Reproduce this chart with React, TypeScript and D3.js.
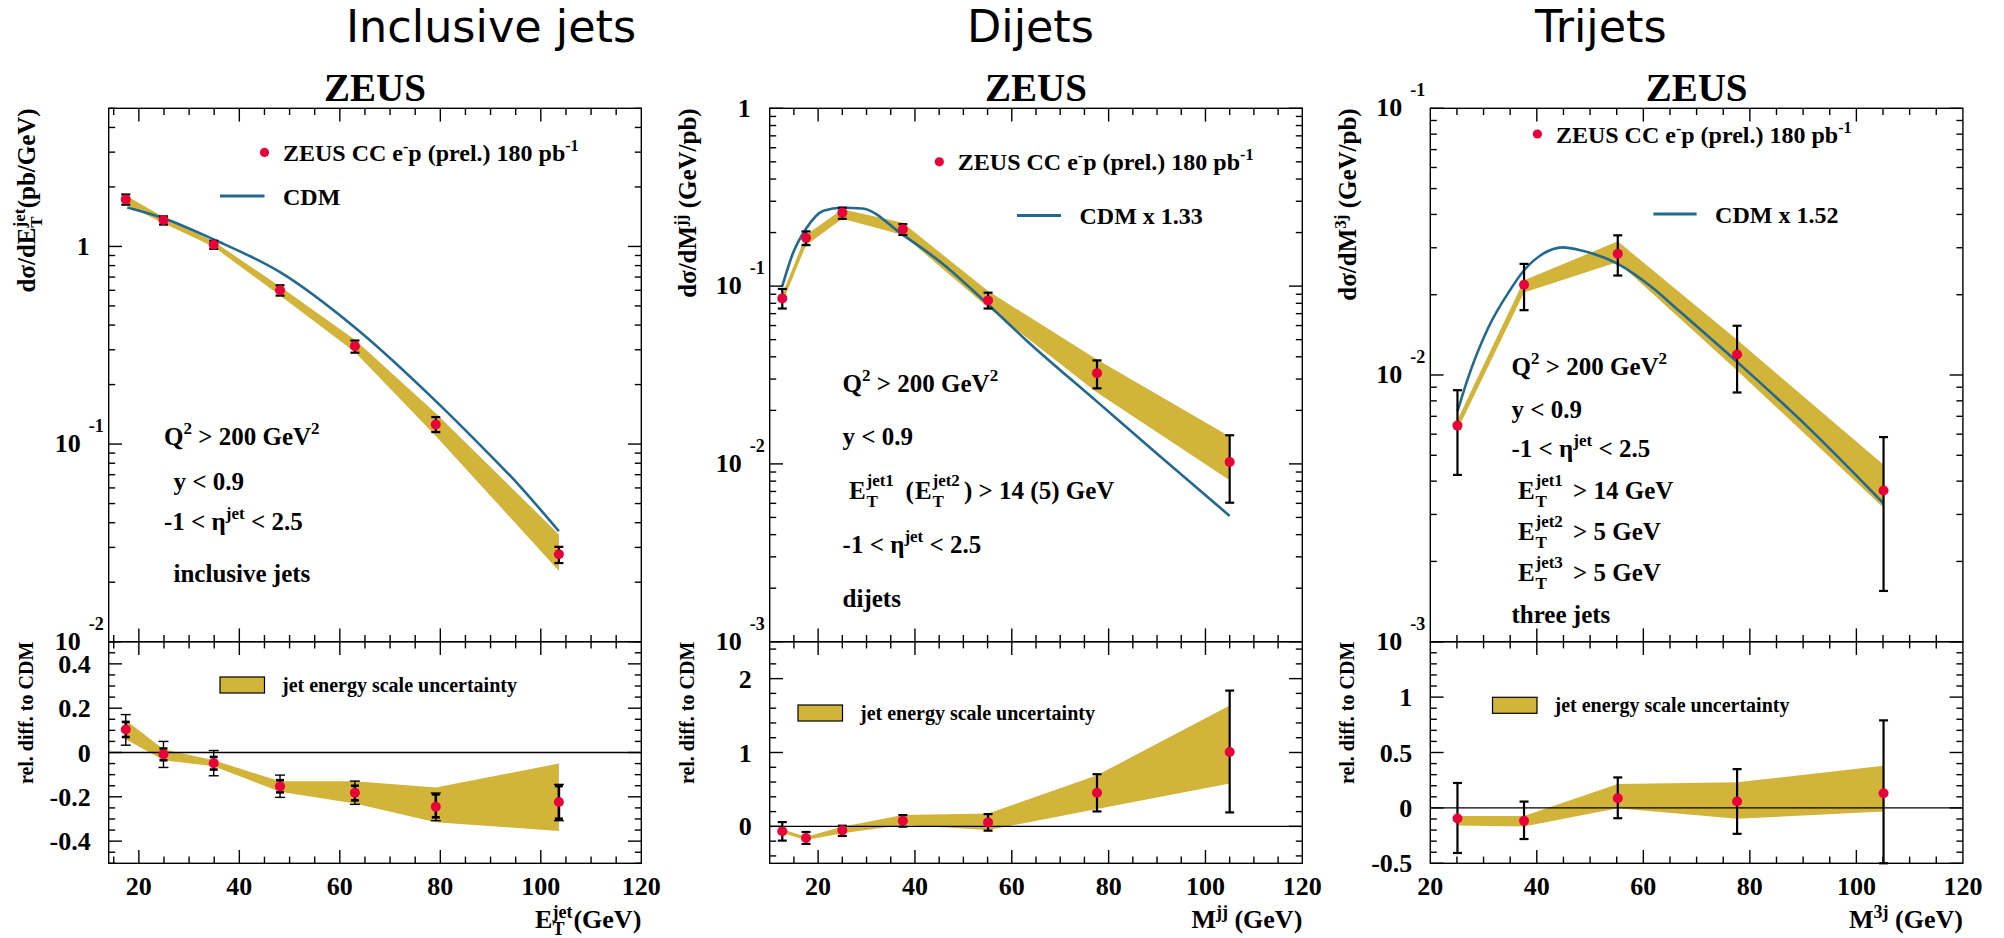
import React from "react";
import * as d3 from "d3";

const W = 2004;
const H = 938;

// ---------------- Inclusive jets ----------------
const incEt = [17.4, 24.9, 34.9, 48.1, 63.0, 79.1, 103.6];
const incXsec = [1.73, 1.36, 1.02, 0.6, 0.313, 0.1257, 0.0277];
const incXsecLo = [1.626, 1.29, 0.972, 0.564, 0.29, 0.115, 0.025];
const incXsecHi = [1.832, 1.42, 1.068, 0.636, 0.334, 0.137, 0.0302];
const incBandLo = [1.63, 1.31, 0.995, 0.564, 0.292, 0.11, 0.0228];
const incBandHi = [1.81, 1.41, 1.06, 0.627, 0.337, 0.143, 0.0349];
const incCdmEt = [17.7, 24.9, 34.9, 48.1, 63.0, 79.1, 87.4, 96.0, 103.6];
const incCdm = [1.573, 1.389, 1.084, 0.741, 0.389, 0.165, 0.102, 0.0606, 0.0362];
const incRel = [0.1035, -0.0075, -0.048, -0.153, -0.1815, -0.2445, -0.2235];
const incRelStatLo = [0.07, -0.035, -0.077, -0.18, -0.216, -0.2925, -0.2985];
const incRelStatHi = [0.138, 0.018, -0.02, -0.125, -0.15, -0.189, -0.1515];
const incRelTotLo = [0.033, -0.0675, -0.105, -0.2025, -0.234, -0.3075, -0.3075];
const incRelTotHi = [0.171, 0.05, 0.009, -0.102, -0.129, -0.183, -0.144];
const incRelBandLo = [0.06, -0.035, -0.062, -0.177, -0.23, -0.315, -0.354];
const incRelBandHi = [0.145, 0.015, -0.035, -0.13, -0.13, -0.158, -0.05];

// ---------------- Dijets ----------------
const dijM = [12.6, 17.5, 25.0, 37.5, 55.1, 77.6, 105.0];
const dijXsec = [0.0853, 0.187, 0.259, 0.209, 0.0831, 0.0324, 0.01026];
const dijXsecLo = [0.0748, 0.17, 0.239, 0.194, 0.0748, 0.0266, 0.00605];
const dijXsecHi = [0.0964, 0.203, 0.276, 0.223, 0.0918, 0.0382, 0.01449];
const dijBandLo = [0.08, 0.17, 0.239, 0.194, 0.0759, 0.0252, 0.0081];
const dijBandHi = [0.09, 0.194, 0.2705, 0.227, 0.0938, 0.0386, 0.01426];
const dijCdmM = [12.6, 14.8, 17.5, 21.1, 25.0, 29.1, 37.5, 45.2, 55.1, 63.2, 77.6, 90.0, 105.0];
const dijCdm = [0.1, 0.153, 0.21, 0.265, 0.276, 0.273, 0.194, 0.137, 0.0788, 0.049, 0.0224, 0.0114, 0.0051];
const dijRel = [-0.067, -0.157, -0.054, 0.076, 0.054, 0.454, 1.007];
const dijRelLo = [-0.193, -0.238, -0.13, -0.004, -0.058, 0.202, 0.189];
const dijRelHi = [0.058, -0.076, 0.009, 0.153, 0.166, 0.706, 1.838];
const dijRelBandLo = [-0.09, -0.184, -0.094, 0.018, -0.049, 0.234, 0.58];
const dijRelBandHi = [-0.04, -0.14, -0.004, 0.153, 0.175, 0.692, 1.636];

// ---------------- Trijets ----------------
const triM = [25.1, 37.6, 55.2, 77.6, 105.1];
const triXsec = [0.00646, 0.0218, 0.0285, 0.01194, 0.00369];
const triXsecLo = [0.00422, 0.0175, 0.0236, 0.0086, 0.00155];
const triXsecHi = [0.00877, 0.0261, 0.0334, 0.0153, 0.00585];
const triBandLo = [0.00622, 0.02037, 0.02655, 0.0104, 0.00318];
const triBandHi = [0.00679, 0.02264, 0.0317, 0.01355, 0.00461];
const triCdmM = [25.1, 26.9, 30.9, 34.9, 37.6, 41.2, 44.8, 48.4, 55.2, 61.9, 66.7, 77.6, 90.6, 105.1];
const triCdm = [0.0073, 0.00951, 0.01507, 0.0207, 0.0247, 0.0285, 0.0301, 0.0293, 0.0261, 0.0211, 0.0174, 0.0112, 0.00646, 0.0033];
const triRel = [-0.096, -0.117, 0.087, 0.057, 0.132];
const triRelLo = [-0.407, -0.281, -0.093, -0.234, -0.5];
const triRelHi = [0.225, 0.057, 0.275, 0.35, 0.79];
const triRelBandLo = [-0.159, -0.168, -0.003, -0.099, -0.033];
const triRelBandHi = [-0.072, -0.072, 0.216, 0.231, 0.38];

// ---------------- Tick labels ----------------
const xTickLabels = [20, 40, 60, 80, 100, 120];
const incLogLabels = [1, 0.1, 0.01];
const dijLogLabels = [1, 0.1, 0.01, 0.001];
const triLogLabels = [0.1, 0.01, 0.001];
const incRelLabels = [-0.4, -0.2, 0, 0.2, 0.4];
const dijRelLabels = [0, 1, 2];
const triRelLabels = [-0.5, 0, 0.5, 1];

const panelTitles = ["Inclusive jets", "Dijets", "Trijets"];

// ---------------- Layout ----------------
const TOP = 108.3;
const SPLIT = 641.7;
const BOTTOM = 863.3;
const PW = 532.6;
const SERIF = "'Liberation Serif', 'Times New Roman', Times, serif";
const SANS = "'DejaVu Sans', Verdana, sans-serif";
const RED = "#e8003a";
const GOLD = "#d2b43b";
const BLUE = "#22698f";

const zip = (xs: number[], ys: number[]) => xs.map((x, i) => [x, ys[i]] as [number, number]);

type PanelProps = {
  left: number;
  xDomain: [number, number];
  yDomain: [number, number];
  relDomain: [number, number];
  relMajor: number;
  relMinor: number;
  logLabels: number[];
  relLabels: number[];
  x: number[];
  y: number[];
  yLo: number[];
  yHi: number[];
  bandLo: number[];
  bandHi: number[];
  cdmX: number[];
  cdmY: number[];
  rel: number[];
  relLo: number[];
  relHi: number[];
  relStatLo?: number[];
  relStatHi?: number[];
  relBandLo: number[];
  relBandHi: number[];
  legDot: [number, number];
  legLine: [number, number, number];
  cdmLabel: string;
  relLeg: [number, number];
};

function Panel(p: PanelProps) {
  const L = p.left;
  const R = p.left + PW;
  const xs = d3.scaleLinear().domain(p.xDomain).range([L, R]);
  const ys = d3.scaleLog().domain(p.yDomain).range([SPLIT, TOP]);
  const rs = d3.scaleLinear().domain(p.relDomain).range([BOTTOM, SPLIT]).clamp(true);

  const xt = d3.range(Math.ceil(p.xDomain[0] / 5) * 5, p.xDomain[1] + 0.01, 5);
  const xTickEls: JSX.Element[] = [];
  xt.forEach((v, i) => {
    const major = v % 20 === 0;
    const len = major ? 13.3 : 6.7;
    const X = xs(v);
    if (X <= L + 0.5 || X >= R - 0.5) return;
    xTickEls.push(<line key={"xt1" + i} x1={X} x2={X} y1={TOP} y2={TOP + len} />);
    xTickEls.push(<line key={"xt2" + i} x1={X} x2={X} y1={SPLIT} y2={SPLIT - len} />);
    xTickEls.push(<line key={"xt3" + i} x1={X} x2={X} y1={SPLIT} y2={SPLIT + len} />);
    xTickEls.push(<line key={"xt4" + i} x1={X} x2={X} y1={BOTTOM} y2={BOTTOM - len} />);
  });

  const logTicks: { v: number; major: boolean }[] = [];
  const k0 = Math.floor(Math.log10(p.yDomain[0]));
  const k1 = Math.ceil(Math.log10(p.yDomain[1]));
  for (let k = k0; k <= k1; k++) {
    for (let m = 1; m <= 9; m++) {
      const v = m * Math.pow(10, k);
      if (v >= p.yDomain[0] * 0.999 && v <= p.yDomain[1] * 1.001) logTicks.push({ v, major: m === 1 });
    }
  }
  const yTickEls = logTicks.map((t, i) => {
    const Y = ys(t.v);
    const len = t.major ? 13.3 : 6.5;
    return (
      <g key={"yt" + i}>
        <line x1={L} x2={L + len} y1={Y} y2={Y} />
        <line x1={R} x2={R - len} y1={Y} y2={Y} />
      </g>
    );
  });

  const rt = d3.range(Math.ceil(p.relDomain[0] / p.relMinor - 1e-6) * p.relMinor, p.relDomain[1] + 1e-6, p.relMinor);
  const rTickEls = rt.map((v, i) => {
    const q = v / p.relMajor;
    const major = Math.abs(q - Math.round(q)) < 1e-6;
    const Y = rs(v);
    const len = major ? 13.3 : 6.5;
    return (
      <g key={"rt" + i}>
        <line x1={L} x2={L + len} y1={Y} y2={Y} />
        <line x1={R} x2={R - len} y1={Y} y2={Y} />
      </g>
    );
  });

  const band = d3
    .area<number>()
    .x((_, i) => xs(p.x[i]))
    .y0((_, i) => ys(p.bandLo[i]))
    .y1((_, i) => ys(p.bandHi[i]));
  const relBand = d3
    .area<number>()
    .x((_, i) => xs(p.x[i]))
    .y0((_, i) => rs(p.relBandLo[i]))
    .y1((_, i) => rs(p.relBandHi[i]));
  const cdmLine = d3
    .line<[number, number]>()
    .x((d) => xs(d[0]))
    .y((d) => ys(d[1]))
    .curve(d3.curveMonotoneX);

  const errBar = (key: string, X: number, y1: number, y2: number, cap: number, sw: number) => (
    <g key={key} stroke="#000" strokeWidth={sw}>
      <line x1={X} x2={X} y1={y1} y2={y2} />
      <line x1={X - cap} x2={X + cap} y1={y1} y2={y1} />
      <line x1={X - cap} x2={X + cap} y1={y2} y2={y2} />
    </g>
  );

  return (
    <g>
      <path d={band(p.x) || ""} fill={GOLD} />
      <path d={cdmLine(zip(p.cdmX, p.cdmY)) || ""} fill="none" stroke={BLUE} strokeWidth={2.6} />
      {p.x.map((v, i) => errBar("ue" + i, xs(v), ys(p.yLo[i]), ys(p.yHi[i]), 4.5, 2.2))}
      {p.x.map((v, i) => (
        <circle key={"um" + i} cx={xs(v)} cy={ys(p.y[i])} r={5} fill={RED} />
      ))}

      <path d={relBand(p.x) || ""} fill={GOLD} />
      <line x1={L} x2={R} y1={rs(0)} y2={rs(0)} stroke="#000" strokeWidth={1.3} />
      {p.relStatLo && p.relStatHi
        ? p.x.map((v, i) => (
            <g key={"le" + i}>
              {errBar("lo" + i, xs(v), rs(p.relLo[i]), rs(p.relHi[i]), 5, 1.4)}
              {errBar("li" + i, xs(v), rs(p.relStatLo![i]), rs(p.relStatHi![i]), 4, 2.6)}
            </g>
          ))
        : p.x.map((v, i) => errBar("le" + i, xs(v), rs(p.relLo[i]), rs(p.relHi[i]), 4.5, 2.2))}
      {p.x.map((v, i) => (
        <circle key={"lm" + i} cx={xs(v)} cy={rs(p.rel[i])} r={5} fill={RED} />
      ))}

      <g stroke="#000" strokeWidth={1.4} fill="none">
        <rect x={L} y={TOP} width={PW} height={SPLIT - TOP} />
        <rect x={L} y={SPLIT} width={PW} height={BOTTOM - SPLIT} />
        {xTickEls}
        {yTickEls}
        {rTickEls}
      </g>

      <g fontFamily={SERIF} fontWeight="bold" fontSize={26} fill="#000">
        {xTickLabels
          .filter((v) => v >= p.xDomain[0] && v <= p.xDomain[1])
          .map((v) => (
            <text key={"xl" + v} x={xs(v)} y={895} textAnchor="middle">
              {v}
            </text>
          ))}
        {p.logLabels.map((v) => {
          const Y = ys(v);
          if (Math.abs(v - 1) < 1e-9)
            return (
              <text key={"ll" + v} x={L - 19} y={Y + 9} textAnchor="end">
                1
              </text>
            );
          const k = Math.round(Math.log10(v));
          return (
            <g key={"ll" + v}>
              <text x={L - 28} y={Y + 8} textAnchor="end">
                10
              </text>
              <text x={L - 20} y={Y - 12} fontSize={18}>
                {String(k)}
              </text>
            </g>
          );
        })}
        {p.relLabels.map((v) => (
          <text key={"rl" + v} x={L - 18} y={rs(v) + 9} textAnchor="end">
            {String(v)}
          </text>
        ))}
      </g>

      <g fontFamily={SERIF} fontWeight="bold" fill="#000">
        <circle cx={L + p.legDot[0]} cy={TOP + p.legDot[1]} r={4.6} fill={RED} />
        <text x={L + p.legDot[0] + 18.5} y={TOP + p.legDot[1] + 8.5} fontSize={24}>
          ZEUS CC e
          <tspan dy={-9} fontSize={16}>
            -
          </tspan>
          <tspan dy={9} fontSize={24}>
            p (prel.) 180 pb
          </tspan>
          <tspan dy={-10} fontSize={16}>
            -1
          </tspan>
        </text>
        <line
          x1={L + p.legLine[0]}
          x2={L + p.legLine[1]}
          y1={TOP + p.legLine[2]}
          y2={TOP + p.legLine[2]}
          stroke={BLUE}
          strokeWidth={3}
        />
        <text x={L + p.legLine[1] + 18.5} y={TOP + p.legLine[2] + 8.5} fontSize={24}>
          {p.cdmLabel}
        </text>
        <rect x={L + p.relLeg[0]} y={p.relLeg[1]} width={44.5} height={16} fill={GOLD} stroke="#000" strokeWidth={1.2} />
        <text x={L + p.relLeg[0] + 62} y={p.relLeg[1] + 15} fontSize={20}>
          jet energy scale uncertainty
        </text>
        <text transform={`translate(${L - 76},${SPLIT}) rotate(-90)`} textAnchor="end" fontSize={20}>
          rel. diff. to CDM
        </text>
      </g>
    </g>
  );
}

const Q2 = ({ x, y }: { x: number; y: number }) => (
  <text x={x} y={y}>
    Q
    <tspan dy={-11} fontSize={17}>
      2
    </tspan>
    <tspan dy={11} fontSize={25}>
      {" > 200 GeV"}
    </tspan>
    <tspan dy={-11} fontSize={17}>
      2
    </tspan>
  </text>
);

const Eta = ({ x, y }: { x: number; y: number }) => (
  <text x={x} y={y}>
    {"-1 < η"}
    <tspan dy={-11} fontSize={17}>
      jet
    </tspan>
    <tspan dy={11} fontSize={25}>
      {" < 2.5"}
    </tspan>
  </text>
);

const ET = ({ x, y, sup }: { x: number; y: number; sup: string }) => (
  <g>
    <text x={x} y={y}>
      E
    </text>
    <text x={x + 17.5} y={y - 13} fontSize={17}>
      {sup}
    </text>
    <text x={x + 17.5} y={y + 8} fontSize={17}>
      T
    </text>
  </g>
);

export default function App() {
  const lefts = [108.7, 769.7, 1430.3];
  return (
    <div style={{ position: "absolute", left: 0, top: 0, width: W, height: H, background: "#fff" }}>
      <svg width={W} height={H} style={{ display: "block" }}>
        <rect x={0} y={0} width={W} height={H} fill="#fff" />

        <g fontFamily={SANS} fontSize={44.5} fill="#000">
          <text x={346} y={42}>
            {panelTitles[0]}
          </text>
          <text x={967} y={42}>
            {panelTitles[1]}
          </text>
          <text x={1535} y={42}>
            {panelTitles[2]}
          </text>
        </g>
        <g fontFamily={SERIF} fontWeight="bold" fontSize={39} textAnchor="middle" fill="#000">
          {lefts.map((l, i) => (
            <text key={"z" + i} x={l + PW / 2} y={101}>
              ZEUS
            </text>
          ))}
        </g>

        <Panel
          left={lefts[0]}
          xDomain={[14, 120]}
          yDomain={[0.01, 5]}
          relDomain={[-0.5, 0.5]}
          relMajor={0.2}
          relMinor={0.05}
          logLabels={incLogLabels}
          relLabels={incRelLabels}
          x={incEt}
          y={incXsec}
          yLo={incXsecLo}
          yHi={incXsecHi}
          bandLo={incBandLo}
          bandHi={incBandHi}
          cdmX={incCdmEt}
          cdmY={incCdm}
          rel={incRel}
          relLo={incRelTotLo}
          relHi={incRelTotHi}
          relStatLo={incRelStatLo}
          relStatHi={incRelStatHi}
          relBandLo={incRelBandLo}
          relBandHi={incRelBandHi}
          legDot={[155.8, 44.1]}
          legLine={[111.3, 155.8, 87.7]}
          cdmLabel="CDM"
          relLeg={[111.3, 677]}
        />
        <Panel
          left={lefts[1]}
          xDomain={[10, 120]}
          yDomain={[0.001, 1]}
          relDomain={[-0.5, 2.5]}
          relMajor={1}
          relMinor={0.2}
          logLabels={dijLogLabels}
          relLabels={dijRelLabels}
          x={dijM}
          y={dijXsec}
          yLo={dijXsecLo}
          yHi={dijXsecHi}
          bandLo={dijBandLo}
          bandHi={dijBandHi}
          cdmX={dijCdmM}
          cdmY={dijCdm}
          rel={dijRel}
          relLo={dijRelLo}
          relHi={dijRelHi}
          relBandLo={dijRelBandLo}
          relBandHi={dijRelBandHi}
          legDot={[169.6, 53.5]}
          legLine={[247.3, 291.3, 107.1]}
          cdmLabel="CDM x 1.33"
          relLeg={[28.3, 705]}
        />
        <Panel
          left={lefts[2]}
          xDomain={[20, 120]}
          yDomain={[0.001, 0.1]}
          relDomain={[-0.5, 1.5]}
          relMajor={0.5}
          relMinor={0.1}
          logLabels={triLogLabels}
          relLabels={triRelLabels}
          x={triM}
          y={triXsec}
          yLo={triXsecLo}
          yHi={triXsecHi}
          bandLo={triBandLo}
          bandHi={triBandHi}
          cdmX={triCdmM}
          cdmY={triCdm}
          rel={triRel}
          relLo={triRelLo}
          relHi={triRelHi}
          relBandLo={triRelBandLo}
          relBandHi={triRelBandHi}
          legDot={[107.1, 25.7]}
          legLine={[223.1, 266.3, 105.7]}
          cdmLabel="CDM x 1.52"
          relLeg={[62.2, 697.3]}
        />

        <g fontFamily={SERIF} fontWeight="bold" fill="#000">
          <text transform={`translate(${lefts[0] - 74},${TOP}) rotate(-90)`} textAnchor="end" fontSize={25}>
            dσ/dE
            <tspan dy={-10} fontSize={17}>
              jet
            </tspan>
            <tspan dx={-19} dy={17} fontSize={17}>
              T
            </tspan>
            <tspan dx={8} dy={-7} fontSize={25}>
              (pb/GeV)
            </tspan>
          </text>
          <text transform={`translate(${lefts[1] - 74},${TOP}) rotate(-90)`} textAnchor="end" fontSize={25}>
            dσ/dM
            <tspan dy={-10} fontSize={17}>
              jj
            </tspan>
            <tspan dy={10} fontSize={25}>
              {" (GeV/pb)"}
            </tspan>
          </text>
          <text transform={`translate(${lefts[2] - 74},${TOP}) rotate(-90)`} textAnchor="end" fontSize={25}>
            dσ/dM
            <tspan dy={-10} fontSize={17}>
              3j
            </tspan>
            <tspan dy={10} fontSize={25}>
              {" (GeV/pb)"}
            </tspan>
          </text>

          <text x={lefts[0] + PW} y={928} textAnchor="end" fontSize={26}>
            E
            <tspan dy={-10} fontSize={18}>
              jet
            </tspan>
            <tspan dx={-20} dy={17} fontSize={18}>
              T
            </tspan>
            <tspan dx={9} dy={-7} fontSize={26}>
              (GeV)
            </tspan>
          </text>
          <text x={lefts[1] + PW} y={928} textAnchor="end" fontSize={26}>
            M
            <tspan dy={-10} fontSize={18}>
              jj
            </tspan>
            <tspan dy={10} fontSize={26}>
              {" (GeV)"}
            </tspan>
          </text>
          <text x={lefts[2] + PW} y={928} textAnchor="end" fontSize={26}>
            M
            <tspan dy={-10} fontSize={18}>
              3j
            </tspan>
            <tspan dy={10} fontSize={26}>
              {" (GeV)"}
            </tspan>
          </text>
        </g>

        <g fontFamily={SERIF} fontWeight="bold" fontSize={25} fill="#000">
          <Q2 x={164} y={444.6} />
          <text x={173.5} y={489.6}>
            {"y < 0.9"}
          </text>
          <Eta x={164} y={530.4} />
          <text x={173.5} y={582.3}>
            inclusive jets
          </text>

          <Q2 x={842.6} y={392.3} />
          <text x={842.6} y={445.4}>
            {"y < 0.9"}
          </text>
          <ET x={849} y={499.4} sup="jet1" />
          <text x={905.5} y={499.4}>
            (
          </text>
          <ET x={915} y={499.4} sup="jet2" />
          <text x={964} y={499.4}>
            {") > 14 (5) GeV"}
          </text>
          <Eta x={842.6} y={552.5} />
          <text x={842.6} y={606.9}>
            dijets
          </text>

          <Q2 x={1511.5} y={375.2} />
          <text x={1511.5} y={417.7}>
            {"y < 0.9"}
          </text>
          <Eta x={1511.5} y={456.9} />
          <ET x={1518} y={499.4} sup="jet1" />
          <text x={1573} y={499.4}>
            {"> 14 GeV"}
          </text>
          <ET x={1518} y={540.3} sup="jet2" />
          <text x={1573} y={540.3}>
            {"> 5 GeV"}
          </text>
          <ET x={1518} y={581.1} sup="jet3" />
          <text x={1573} y={581.1}>
            {"> 5 GeV"}
          </text>
          <text x={1511.5} y={623.2}>
            three jets
          </text>
        </g>
      </svg>
    </div>
  );
}
